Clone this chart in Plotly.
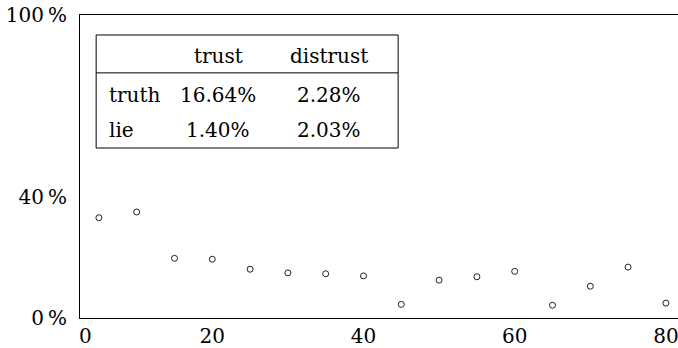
import plotly.graph_objects as go

# Share per step (%), sampled every 5 steps
steps = [5, 10, 15, 20, 25, 30, 35, 40, 45, 50, 55, 60, 65, 70, 75, 80]
share = [33.1, 35.0, 19.7, 19.4, 16.1, 14.9, 14.6, 13.9, 4.5, 12.5, 13.6, 15.4, 4.2, 10.5, 16.8, 4.9]

# Axis ticks
x_tickvals = [3.2, 20, 40, 60, 80]
x_ticktext = ["0", "20", "40", "60", "80"]
y_tickvals = [0, 40, 100]
y_ticktext = ["0\u2009%", "40\u2009%", "100\u2009%"]

# Inset table: trust / distrust vs truth / lie
table_cols = ["trust", "distrust"]
table_rows = ["truth", "lie"]
table_vals = [["16.64%", "2.28%"], ["1.40%", "2.03%"]]

FONT = "DejaVu Serif"
FS = 20

fig = go.Figure()
fig.add_trace(go.Scatter(
    x=steps, y=share, mode="markers",
    marker=dict(symbol="circle-open", size=6, color="#222", line=dict(width=1, color="#222")),
    showlegend=False,
))

# table frame and header rule (paper coordinates)
x0, x1 = 0.027, 0.532
y_top, y_bot, y_rule = 0.934, 0.561, 0.809
fig.add_shape(type="rect", xref="paper", yref="paper", x0=x0, x1=x1, y0=y_bot, y1=y_top,
              line=dict(color="black", width=1), fillcolor="white", layer="above")
fig.add_shape(type="line", xref="paper", yref="paper", x0=x0, x1=x1, y0=y_rule, y1=y_rule,
              line=dict(color="black", width=1))

col_x = [0.231, 0.416]
row_y = [0.736, 0.621]
head_y = 0.865
ann = []
for cx, name in zip(col_x, table_cols):
    ann.append(dict(x=cx, y=head_y, text=name))
for ry, rname, vals in zip(row_y, table_rows, table_vals):
    ann.append(dict(x=0.045, y=ry, text=rname, xanchor="left"))
    for cx, v in zip(col_x, vals):
        ann.append(dict(x=cx, y=ry, text=v))
for a in ann:
    a.setdefault("xanchor", "center")
    fig.add_annotation(xref="paper", yref="paper", yanchor="middle", showarrow=False,
                       font=dict(family=FONT, size=FS, color="black"), **a)

fig.update_layout(
    width=678, height=348,
    margin=dict(l=80, r=0, t=15, b=30),
    plot_bgcolor="white", paper_bgcolor="white",
    font=dict(family=FONT, size=FS, color="black"),
)
fig.update_xaxes(
    range=[2.5, 81.6], tickvals=x_tickvals, ticktext=x_ticktext,
    showgrid=False, zeroline=False, showline=True, mirror=True,
    linecolor="black", linewidth=1, automargin=False, ticks="",
    ticklabeloverflow="allow",
)
fig.update_yaxes(
    range=[0, 100], tickvals=y_tickvals, ticktext=y_ticktext,
    showgrid=False, zeroline=False, showline=True, mirror=False,
    linecolor="black", linewidth=1, automargin=False,
    ticks="outside", ticklen=8, tickcolor="rgba(0,0,0,0)",
    ticklabeloverflow="allow",
)

fig.write_html("out.html")
